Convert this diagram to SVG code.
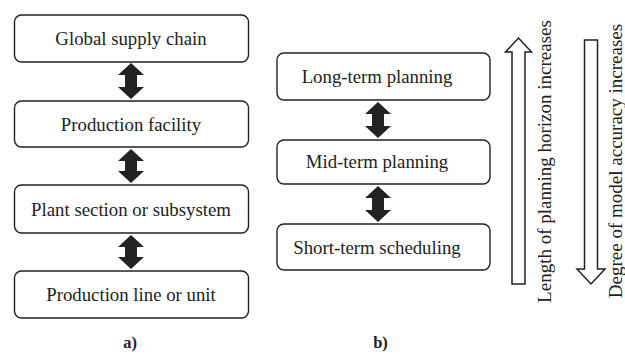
<svg xmlns="http://www.w3.org/2000/svg" width="625" height="354" viewBox="0 0 625 354" font-family="'Liberation Serif', 'Times New Roman', serif">
<style>
text{font-family:"Liberation Serif","Times New Roman",serif;fill:#222}
.box{fill:#fff;stroke:#222;stroke-width:1.4}
.lbl{font-size:18.8px;text-anchor:middle}
.vt{font-size:19px;text-anchor:middle}
.cap{font-size:16.5px;font-weight:bold;text-anchor:middle}
.dbl{fill:#222;stroke:none}
.hollow{fill:#fff;stroke:#222;stroke-width:1.5;stroke-linejoin:miter}
</style>
<rect width="625" height="354" fill="#fff"/>
<g id="connectors">
  <path class="dbl" d="M131,63 L144,75 L137,75 L137,87 L144,87 L131,99 L118,87 L125,87 L125,75 L118,75 Z"/>
  <path class="dbl" d="M131,149 L144,161 L137,161 L137,171 L144,171 L131,183 L118,171 L125,171 L125,161 L118,161 Z"/>
  <path class="dbl" d="M131,235 L144,247 L137,247 L137,257 L144,257 L131,269 L118,257 L125,257 L125,247 L118,247 Z"/>
  <path class="dbl" d="M378,102 L391,114 L384,114 L384,126 L391,126 L378,138 L365,126 L372,126 L372,114 L365,114 Z"/>
  <path class="dbl" d="M378,186 L391,198 L384,198 L384,210 L391,210 L378,222 L365,210 L372,210 L372,198 L365,198 Z"/>
</g>
<g id="node-global">
  <rect class="box" x="14.5" y="15" width="234" height="47" rx="7"/>
  <text class="lbl" x="131" y="45">Global supply chain</text>
</g>
<g id="node-facility">
  <rect class="box" x="14.5" y="101" width="234" height="46" rx="7"/>
  <text class="lbl" x="131" y="130.5">Production facility</text>
</g>
<g id="node-section">
  <rect class="box" x="14.5" y="185" width="234" height="48" rx="7"/>
  <text class="lbl" x="131" y="215.5">Plant section or subsystem</text>
</g>
<g id="node-line">
  <rect class="box" x="14.5" y="271" width="234" height="47" rx="7"/>
  <text class="lbl" x="131" y="301">Production line or unit</text>
</g>
<g id="node-long">
  <rect class="box" x="277" y="53" width="213" height="47" rx="7"/>
  <text class="lbl" x="377" y="82.5">Long-term planning</text>
</g>
<g id="node-mid">
  <rect class="box" x="277" y="140" width="213" height="44" rx="7"/>
  <text class="lbl" x="377" y="168">Mid-term planning</text>
</g>
<g id="node-short">
  <rect class="box" x="277" y="224" width="213" height="46" rx="7"/>
  <text class="lbl" x="377" y="253.5">Short-term scheduling</text>
</g>
<g id="horizon-arrow">
  <path class="hollow" d="M518.5,38 L531.5,52 L525,52 L525,284 L512,284 L512,52 L505.5,52 Z"/>
  <text class="vt" transform="translate(551,161.5) rotate(-90)">Length of planning horizon increases</text>
</g>
<g id="accuracy-arrow">
  <path class="hollow" d="M584.5,40 L597.5,40 L597.5,269 L605,269 L591,284 L577,269 L584.5,269 Z"/>
  <text class="vt" transform="translate(622,161) rotate(-90)">Degree of model accuracy increases</text>
</g>
<g id="captions">
  <text class="cap" x="130" y="348">a)</text>
  <text class="cap" x="380.5" y="348">b)</text>
</g>
</svg>
